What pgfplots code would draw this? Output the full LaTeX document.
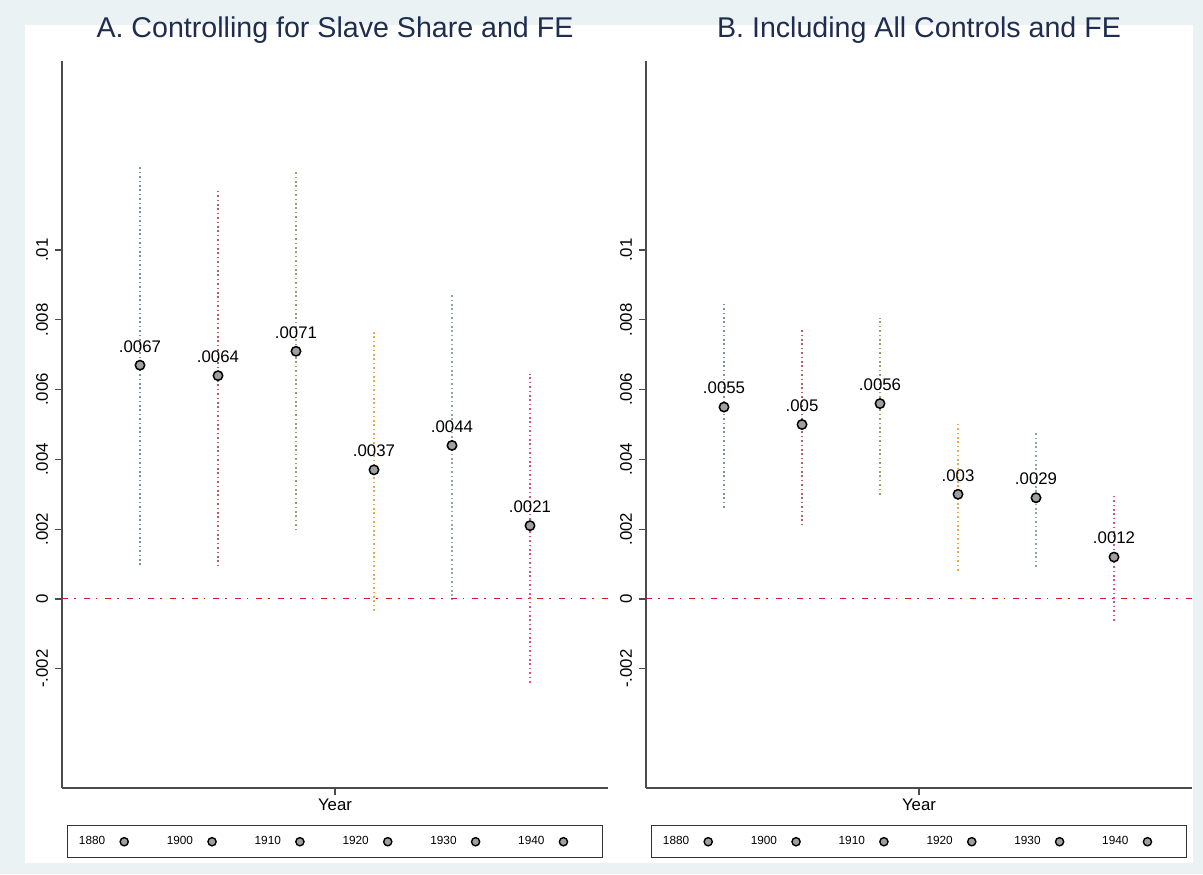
\documentclass[border=0pt]{standalone}
\usepackage{fontspec}
\setmainfont{Liberation Sans}
\usepackage{pgfplots}
\pgfplotsset{compat=1.18}
\definecolor{bgc}{RGB}{234,242,243}
\definecolor{ttl}{RGB}{30,45,80}
\definecolor{c1}{RGB}{120,145,175}
\definecolor{c2}{RGB}{180,95,100}
\definecolor{c3}{RGB}{145,165,110}
\definecolor{c4}{RGB}{242,165,80}
\definecolor{c5}{RGB}{140,170,160}
\definecolor{c6}{RGB}{220,80,135}
\definecolor{zl}{RGB}{215,30,30}
\pgfplotsset{
  panel/.style={
    scale only axis, width=273pt, height=363.5pt,
    xmin=0, xmax=7, ymin=-0.00542, ymax=0.01542,
    axis x line*=bottom, axis y line*=left,
    axis line style={black!70, line width=0.6pt, -},
    xtick={3.5}, xticklabels={},
    ytick={-0.002,0,0.002,0.004,0.006,0.008,0.01},
    yticklabels={-.002,0,.002,.004,.006,.008,.01},
    yticklabel style={rotate=90, anchor=south, font=\fontsize{8.4}{10}\selectfont},
    scaled y ticks=false,
    /pgf/number format/assume math mode=true,
    tick align=outside, major tick length=3.5pt,
    tick style={black!70, line width=0.6pt},
    xlabel={Year},
    xlabel style={at={(0.5,0)}, anchor=base, yshift=-11pt, font=\fontsize{8.4}{10}\selectfont},
    title style={at={(0.5,1)}, anchor=base, yshift=6pt, font=\fontsize{14.3}{17}\selectfont, text=ttl},
    legend columns=6, legend plot pos=right,
    legend style={at={(0.5,0)}, anchor=north, yshift=-18.5pt, draw=black!80, line width=0.5pt,
      font=\fontsize{5.9}{7}\selectfont, inner xsep=5.5pt, inner ysep=5.3pt,
      nodes={inner sep=0pt},
      /tikz/every even column/.append style={column sep=7.5pt}},
    legend image code/.code={\path[draw=none, fill=none] (0pt,0pt) -- (23.3pt,0pt);
      \path[draw=black, fill=gray!75, line width=0.7pt] (9.5pt,0pt) circle[radius=2.05pt];},
    clip=false,
  },
  est/.style={only marks, mark=*, mark size=2.35pt,
    mark options={fill=gray!75, draw=black, line width=0.75pt}},
  ci/.style={#1, line width=0.55pt, dash pattern=on 0.8pt off 1.4pt, forget plot},
  zero/.style={zl, line width=0.55pt, dash pattern=on 3pt off 3pt on 0.8pt off 4pt, forget plot},
  lab/.style={draw=none, mark=none, forget plot, point meta=explicit symbolic,
    nodes near coords, nodes near coords style={anchor=base, yshift=6.6pt, text=black,
      font=\fontsize{8.4}{10}\selectfont}},
}
\begin{document}
\begin{tikzpicture}
\useasboundingbox (0,0) rectangle (601.5pt,437pt);
\fill[bgc] (0,0) rectangle (601.5pt,437pt);
\fill[white] (12.5pt,5.5pt) rectangle (596.5pt,424.5pt);

\begin{axis}[panel, at={(31pt,43pt)}, anchor=south west,
  title={A. Controlling for Slave Share and FE}]
\addplot[zero] coordinates {(0,0) (7,0)};
\addplot[ci=c1] coordinates {(1,0.00097) (1,0.0124)};
\addplot[ci=c2] coordinates {(2,0.00093) (2,0.01175)};
\addplot[ci=c3] coordinates {(3,0.00197) (3,0.01224)};
\addplot[ci=c4] coordinates {(4,-0.00034) (4,0.00769)};
\addplot[ci=c5] coordinates {(5,-0.00004) (5,0.00878)};
\addplot[ci=c6] coordinates {(6,-0.0024) (6,0.00646)};
\addplot[est] coordinates {(1,0.0067)};
\addplot[est] coordinates {(2,0.0064)};
\addplot[est] coordinates {(3,0.0071)};
\addplot[est] coordinates {(4,0.0037)};
\addplot[est] coordinates {(5,0.0044)};
\addplot[est] coordinates {(6,0.0021)};
\addplot[lab] coordinates {(1,0.0067)[.0067] (2,0.0064)[.0064] (3,0.0071)[.0071]
  (4,0.0037)[.0037] (5,0.0044)[.0044] (6,0.0021)[.0021]};
\legend{1880,1900,1910,1920,1930,1940}
\end{axis}

\begin{axis}[panel, at={(323pt,43pt)}, anchor=south west,
  title={B. Including All Controls and FE}]
\addplot[zero] coordinates {(0,0) (7,0)};
\addplot[ci=c1] coordinates {(1,0.00261) (1,0.00847)};
\addplot[ci=c2] coordinates {(2,0.00211) (2,0.00778)};
\addplot[ci=c3] coordinates {(3,0.00299) (3,0.00804)};
\addplot[ci=c4] coordinates {(4,0.00081) (4,0.00504)};
\addplot[ci=c5] coordinates {(5,0.00092) (5,0.00476)};
\addplot[ci=c6] coordinates {(6,-0.00062) (6,0.00299)};
\addplot[est] coordinates {(1,0.0055)};
\addplot[est] coordinates {(2,0.0050)};
\addplot[est] coordinates {(3,0.0056)};
\addplot[est] coordinates {(4,0.0030)};
\addplot[est] coordinates {(5,0.0029)};
\addplot[est] coordinates {(6,0.0012)};
\addplot[lab] coordinates {(1,0.0055)[.0055] (2,0.0050)[.005] (3,0.0056)[.0056]
  (4,0.0030)[.003] (5,0.0029)[.0029] (6,0.0012)[.0012]};
\legend{1880,1900,1910,1920,1930,1940}
\end{axis}
\end{tikzpicture}
\end{document}
